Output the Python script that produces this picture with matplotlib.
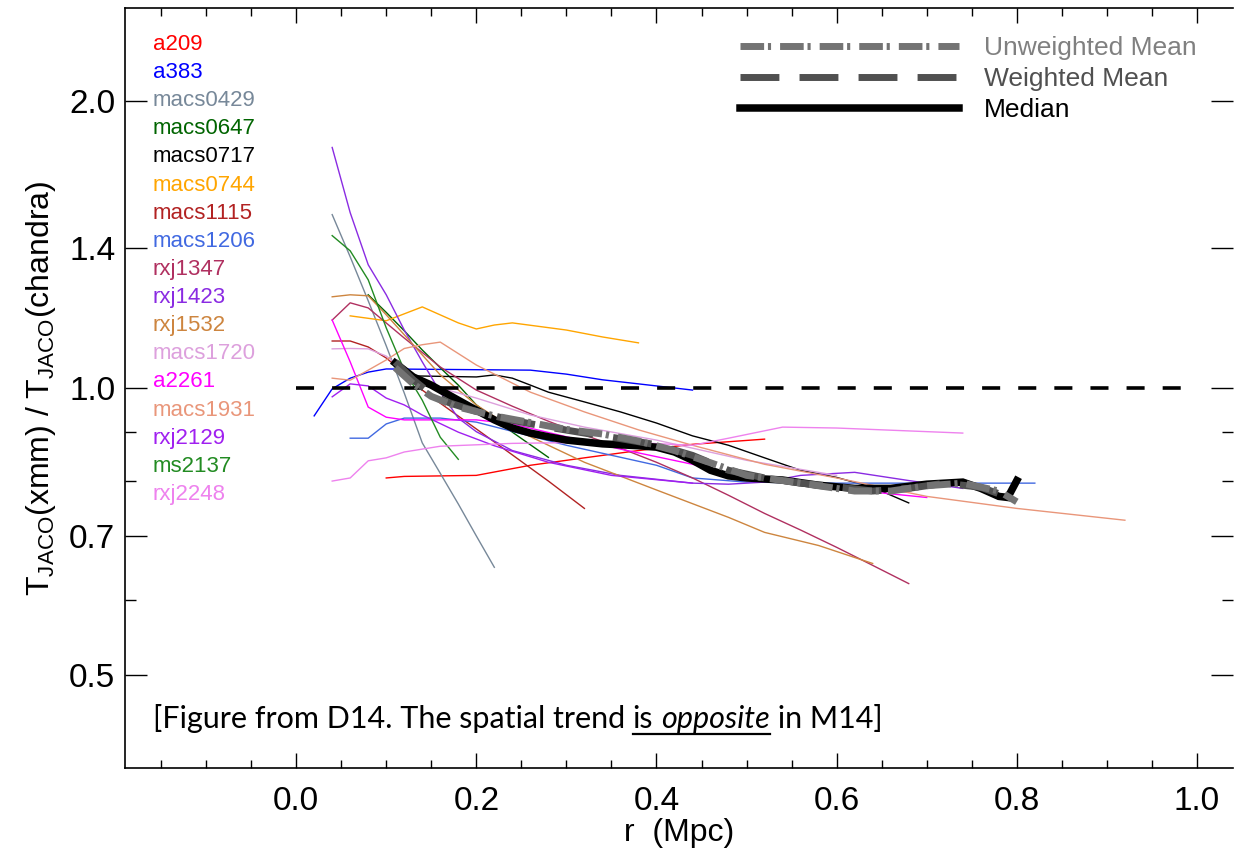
import numpy as np
import matplotlib
matplotlib.use('Agg')
import matplotlib.pyplot as plt
from matplotlib.ticker import FixedLocator, NullFormatter

plt.rcParams['font.family'] = ['Liberation Sans', 'DejaVu Sans']
plt.rcParams['mathtext.fontset'] = 'custom'
plt.rcParams['mathtext.rm'] = 'Liberation Sans'

# cluster profiles: r (Mpc) and T_xmm / T_chandra
names = ['a209', 'a383', 'macs0429', 'macs0647', 'macs0717', 'macs0744',
         'macs1115', 'macs1206', 'rxj1347', 'rxj1423', 'rxj1532', 'macs1720',
         'a2261', 'macs1931', 'rxj2129', 'ms2137', 'rxj2248']
colors = ['#ff0000', '#0000ff', '#778899', '#006400', '#000000', '#ffa500',
          '#b22222', '#4169e1', '#b03060', '#8a2be2', '#cd853f', '#dda0dd',
          '#ff00ff', '#e9967a', '#a020f0', '#228b22', '#ee82ee']

r_a209 = [0.10, 0.12, 0.20, 0.26, 0.32, 0.38, 0.44, 0.52]
t_a209 = [0.805, 0.808, 0.81, 0.83, 0.845, 0.86, 0.873, 0.884]
r_a383 = [0.02, 0.04, 0.06, 0.08, 0.10, 0.26, 0.30, 0.34, 0.38, 0.42, 0.44]
t_a383 = [0.935, 0.998, 1.024, 1.039, 1.047, 1.044, 1.034, 1.02, 1.01, 1.0, 0.995]
r_macs0429 = [0.04, 0.06, 0.08, 0.10, 0.12, 0.14, 0.16, 0.18, 0.20, 0.22]
t_macs0429 = [1.519, 1.372, 1.234, 1.107, 0.988, 0.876, 0.814, 0.756, 0.70, 0.649]
r_macs0647 = [0.08, 0.10, 0.12, 0.14, 0.16, 0.18, 0.20, 0.24, 0.28]
t_macs0647 = [1.252, 1.20, 1.148, 1.096, 1.05, 1.007, 0.96, 0.899, 0.846]
r_macs0717 = [0.12, 0.20, 0.22, 0.24, 0.26, 0.28, 0.32, 0.36, 0.40, 0.44, 0.48,
              0.52, 0.56, 0.60, 0.64, 0.68]
t_macs0717 = [1.03, 1.027, 1.032, 1.024, 1.007, 0.99, 0.967, 0.944, 0.919, 0.891,
              0.871, 0.845, 0.82, 0.806, 0.787, 0.758]
r_macs0744 = [0.06, 0.10, 0.14, 0.18, 0.20, 0.22, 0.24, 0.30, 0.34, 0.38]
t_macs0744 = [1.19, 1.176, 1.216, 1.17, 1.153, 1.164, 1.17, 1.15, 1.131, 1.115]
r_macs1115 = [0.04, 0.06, 0.08, 0.10, 0.12, 0.14, 0.16, 0.20, 0.24, 0.28, 0.32]
t_macs1115 = [1.12, 1.12, 1.104, 1.075, 1.037, 0.995, 0.964, 0.906, 0.851, 0.799, 0.748]
r_macs1206 = [0.06, 0.08, 0.10, 0.12, 0.16, 0.20, 0.30, 0.40, 0.44, 0.50, 0.60, 0.70, 0.82]
t_macs1206 = [0.886, 0.886, 0.917, 0.93, 0.93, 0.921, 0.871, 0.83, 0.805, 0.797,
              0.795, 0.795, 0.795]
r_rxj1347 = [0.04, 0.06, 0.08, 0.12, 0.16, 0.20, 0.24, 0.28, 0.32, 0.36, 0.40,
             0.44, 0.48, 0.52, 0.56, 0.60, 0.64, 0.68]
t_rxj1347 = [1.178, 1.228, 1.213, 1.128, 1.052, 0.995, 0.957, 0.923, 0.893, 0.865,
             0.836, 0.805, 0.772, 0.739, 0.71, 0.681, 0.652, 0.624]
r_rxj1423 = [0.04, 0.06, 0.08, 0.10, 0.12, 0.14, 0.16, 0.18, 0.20, 0.24, 0.30,
             0.36, 0.44, 0.48, 0.52, 0.56, 0.62, 0.68, 0.74]
t_rxj1423 = [1.786, 1.526, 1.346, 1.252, 1.15, 1.065, 0.99, 0.93, 0.90, 0.86, 0.83,
             0.81, 0.795, 0.793, 0.797, 0.81, 0.816, 0.80, 0.785]
r_rxj1532 = [0.04, 0.06, 0.08, 0.10, 0.12, 0.14, 0.16, 0.20, 0.24, 0.28, 0.32,
             0.40, 0.48, 0.52, 0.58, 0.64]
t_rxj1532 = [1.246, 1.252, 1.249, 1.193, 1.137, 1.083, 1.032, 0.96, 0.908, 0.871,
             0.836, 0.782, 0.732, 0.706, 0.684, 0.655]
r_macs1720 = [0.04, 0.06, 0.08, 0.10, 0.12, 0.16, 0.20, 0.26, 0.32, 0.40, 0.50, 0.60]
t_macs1720 = [1.099, 1.10, 1.099, 1.08, 1.044, 1.0, 0.976, 0.937, 0.91, 0.882, 0.84, 0.81]
r_a2261 = [0.04, 0.06, 0.08, 0.10, 0.12, 0.20, 0.24, 0.30, 0.36, 0.44, 0.48, 0.52,
           0.60, 0.70]
t_a2261 = [1.178, 1.065, 0.955, 0.932, 0.926, 0.926, 0.917, 0.889, 0.863, 0.832,
           0.814, 0.804, 0.785, 0.768]
r_macs1931 = [0.04, 0.06, 0.08, 0.10, 0.12, 0.14, 0.16, 0.20, 0.26, 0.32, 0.38,
              0.44, 0.52, 0.60, 0.70, 0.80, 0.92]
t_macs1931 = [1.024, 1.019, 1.044, 1.07, 1.10, 1.11, 1.117, 1.057, 0.99, 0.944,
              0.904, 0.871, 0.832, 0.805, 0.77, 0.748, 0.727]
r_rxj2129 = [0.04, 0.06, 0.08, 0.10, 0.12, 0.14, 0.18, 0.22, 0.28, 0.35, 0.44]
t_rxj2129 = [0.979, 1.01, 1.005, 0.976, 0.96, 0.937, 0.899, 0.87, 0.836, 0.81, 0.795]
r_ms2137 = [0.04, 0.06, 0.08, 0.10, 0.12, 0.14, 0.16, 0.18]
t_ms2137 = [1.444, 1.392, 1.298, 1.156, 1.044, 0.971, 0.888, 0.842]
r_rxj2248 = [0.04, 0.06, 0.08, 0.10, 0.12, 0.16, 0.24, 0.36, 0.44, 0.48, 0.54,
             0.60, 0.74]
t_rxj2248 = [0.799, 0.805, 0.839, 0.845, 0.857, 0.869, 0.875, 0.878, 0.871, 0.886,
             0.91, 0.908, 0.897]

radii = [r_a209, r_a383, r_macs0429, r_macs0647, r_macs0717, r_macs0744,
         r_macs1115, r_macs1206, r_rxj1347, r_rxj1423, r_rxj1532, r_macs1720,
         r_a2261, r_macs1931, r_rxj2129, r_ms2137, r_rxj2248]
ratios = [t_a209, t_a383, t_macs0429, t_macs0647, t_macs0717, t_macs0744,
          t_macs1115, t_macs1206, t_rxj1347, t_rxj1423, t_rxj1532, t_macs1720,
          t_a2261, t_macs1931, t_rxj2129, t_ms2137, t_rxj2248]

# stacked profiles
r_med = [0.11, 0.13, 0.15, 0.18, 0.20, 0.22, 0.24, 0.26, 0.28, 0.30, 0.34, 0.38,
         0.40, 0.42, 0.44, 0.46, 0.48, 0.50, 0.54, 0.58, 0.62, 0.66, 0.70, 0.74,
         0.76, 0.78, 0.79, 0.80]
t_med = [1.062, 1.027, 1.007, 0.971, 0.948, 0.926, 0.908, 0.897, 0.889, 0.882,
         0.874, 0.87, 0.867, 0.857, 0.84, 0.82, 0.809, 0.805, 0.801, 0.791, 0.785,
         0.785, 0.793, 0.797, 0.785, 0.77, 0.768, 0.80]
r_wmean = [0.11, 0.13, 0.15, 0.17, 0.20, 0.24, 0.28, 0.32, 0.36, 0.40, 0.44, 0.48,
           0.52, 0.56, 0.60, 0.64, 0.68, 0.72, 0.76, 0.78, 0.80]
t_wmean = [1.065, 1.02, 0.985, 0.965, 0.945, 0.925, 0.91, 0.897, 0.885, 0.872, 0.85,
           0.82, 0.805, 0.795, 0.788, 0.78, 0.785, 0.795, 0.787, 0.775, 0.765]
r_umean = [0.11, 0.13, 0.15, 0.18, 0.22, 0.26, 0.30, 0.34, 0.38, 0.42, 0.46, 0.50,
           0.54, 0.58, 0.62, 0.66, 0.70, 0.74, 0.78, 0.80]
t_umean = [1.05, 1.01, 0.98, 0.955, 0.935, 0.92, 0.905, 0.895, 0.88, 0.86, 0.835,
           0.81, 0.80, 0.79, 0.78, 0.78, 0.79, 0.795, 0.78, 0.76]

r_unity = [0.0, 1.0]
t_unity = [1.0, 1.0]

fig = plt.figure(figsize=(12.34, 8.51), dpi=100)
ax = fig.add_axes([125 / 1234, 1 - 768 / 851, 1108 / 1234, 760 / 851])

for r, t, c in zip(radii, ratios, colors):
    ax.plot(r, t, color=c, lw=1.0)

ax.plot(r_unity, t_unity, color='black', lw=2.6, linestyle=(0, (5.0, 5.0)),
        dash_capstyle='butt')

med, = ax.plot(r_med, t_med, color='black', lw=5.4, solid_joinstyle='miter',
               label='Median')
wm, = ax.plot(r_wmean, t_wmean, color='#505050', lw=5.0,
              linestyle=(0, (5.6, 2.9)), dash_capstyle='butt', label='Weighted Mean')
um, = ax.plot(r_umean, t_umean, color='#737373', lw=5.0,
              linestyle=(0, (3.4, 0.55, 0.45, 1.3)), dash_capstyle='butt',
              label='Unweighted Mean')

leg = ax.legend(handles=[um, wm, med], loc='upper left',
                bbox_to_anchor=(0.555, 0.963), frameon=False, fontsize=19,
                handlelength=8.3, handletextpad=0.95, labelspacing=0.26,
                borderpad=0, borderaxespad=0,
                labelcolor=['#808080', '#505050', 'black'])

for i, (n, c) in enumerate(zip(names, colors)):
    ax.text(0.025, 0.952 - i * 0.037, n, color=c, fontsize=16,
            transform=ax.transAxes, va='center', ha='left')

ax.set_yscale('log')
ax.set_xlim(-0.19, 1.04)
ax.set_ylim(0.40, 2.50)

ax.yaxis.set_major_locator(FixedLocator([0.5, 0.7, 1.0, 1.4, 2.0]))
ax.yaxis.set_minor_locator(FixedLocator([0.6, 0.8, 0.9]))
ax.set_yticklabels(['0.5', '0.7', '1.0', '1.4', '2.0'])
ax.yaxis.set_minor_formatter(NullFormatter())
ax.set_xticks([0.0, 0.2, 0.4, 0.6, 0.8, 1.0])
ax.set_xticks(np.arange(-0.15, 1.04, 0.05), minor=True)

ax.tick_params(axis='y', which='major', direction='in', length=16, width=1,
               labelsize=24, pad=7, right=True)
ax.tick_params(axis='y', which='minor', direction='in', length=8, width=1, right=True)
ax.tick_params(axis='x', which='major', direction='in', length=11, width=1,
               labelsize=24, pad=13, top=True)
ax.tick_params(axis='x', which='minor', direction='in', length=6, width=1, top=True)
ax.spines['right'].set_visible(False)
for s in ['left', 'bottom', 'top']:
    ax.spines[s].set_linewidth(1.2)

ax.set_xlabel('r  (Mpc)', fontsize=23, labelpad=1)
ax.set_ylabel(r'T$_{\rm JACO}$(xmm) / T$_{\rm JACO}$(chandra)', fontsize=23,
              labelpad=8)

# note at bottom, with "is opposite" underlined
fig.canvas.draw()
renderer = fig.canvas.get_renderer()
fs = 22
note_font = ['Lato', 'DejaVu Sans']
pieces = [('[Figure from D14. The spatial trend ', 'normal'),
          ('is', 'normal'), (' ', 'normal'), ('opposite', 'italic'),
          (' in M14]', 'normal')]
x0, y0 = ax.transAxes.transform((0.025, 0.052))
xcur = x0
boxes = []
for txt, style in pieces:
    t = fig.text(xcur, y0, txt, fontsize=fs, family=note_font, style=style,
                 transform=None, va='baseline', ha='left')
    bb = t.get_window_extent(renderer)
    boxes.append(bb)
    xcur = bb.x1
ul_x0 = boxes[1].x0
ul_x1 = boxes[3].x1
fig.add_artist(plt.Line2D([ul_x0, ul_x1], [y0 - 6, y0 - 6], transform=None,
                          color='black', lw=1.6))

fig.savefig('out.png', dpi=100)
